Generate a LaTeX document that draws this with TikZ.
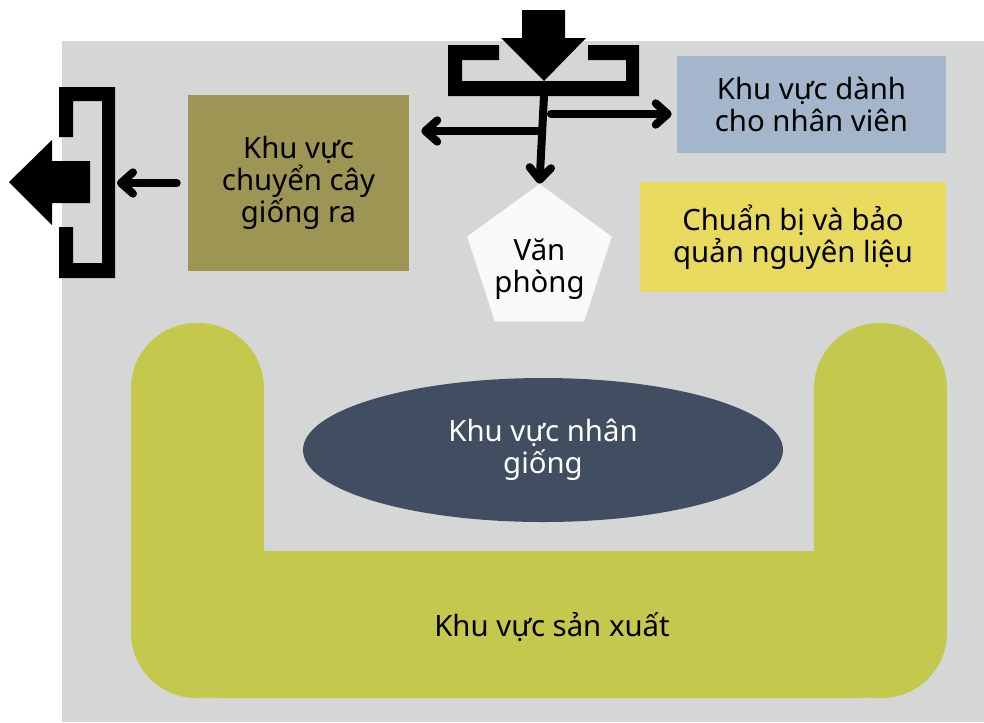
\documentclass[tikz,border=0pt]{standalone}
\usepackage{fontspec}
\setmainfont{Noto Sans}
\usepackage{tikz}
\usetikzlibrary{arrows.meta,shapes.geometric,positioning}
\definecolor{floorgray}{HTML}{D5D7D6}
\definecolor{nurseryolive}{HTML}{9C9553}
\definecolor{staffblue}{HTML}{A3B6CB}
\definecolor{storeyellow}{HTML}{E8DA5E}
\definecolor{propslate}{HTML}{414E62}
\definecolor{prodlime}{HTML}{C4C94E}
\definecolor{officewhite}{HTML}{F9F9F9}
\tikzstyle{zone}=[inner sep=0pt,align=center,font=\fontsize{22}{24}\selectfont]
\tikzstyle{box}=[zone,rectangle]
\tikzstyle{flow}=[line width=6pt,line cap=round,-{Straight Barb[length=9pt,width=16pt,round]}]
\tikzstyle{door}=[fill=black]

\begin{document}
\begin{tikzpicture}[x=0.75pt,y=-0.75pt]
        \useasboundingbox (0,0) rectangle (984,722);
        \fill[floorgray] (62,41) rectangle (984,722);

        % production area
        \fill[prodlime,rounded corners=49pt] (131,323) rectangle (264,698);
        \fill[prodlime,rounded corners=49pt] (814,323) rectangle (947,698);
        \fill[prodlime,rounded corners=52pt] (148,551) rectangle (930,698);
        \node[zone] (production) at (552,627) {Khu vực sản xuất};

        \node (nursery) [box,fill=nurseryolive,minimum width=165.75pt,minimum height=132pt] at (298.5,183) {Khu vực\\chuyển cây\\giống ra};
        \node (staff) [box,fill=staffblue,minimum width=201.75pt,minimum height=72.75pt] at (811.5,104.5) {Khu vực dành\\cho nhân viên};
        \node (store) [box,fill=storeyellow,minimum width=229.5pt,minimum height=82.5pt] at (793,237) {Chuẩn bị và bảo\\quản nguyên liệu};
        \node (office) [regular polygon,regular polygon sides=5,minimum size=114pt,fill=officewhite,
            label={[zone,yshift=-7pt]center:{Văn\\phòng}}] at (539.5,260) {};
        \node (propagation) [zone,ellipse,fill=propslate,text=white,minimum width=360pt,minimum height=108pt] at (543,450) {Khu vực nhân\\giống};

        % entrance
        \fill[door] (499,45) -- (448,45) -- (448,96) -- (639,96) -- (639,45) -- (588,45) -- (588,60) -- (626,60) -- (626,81) -- (462,81) -- (462,60) -- (499,60) -- cycle;
        \fill[door] (522,10) -- (565,10) -- (565,38) -- (586,38) -- (544,81) -- (501,38) -- (522,38) -- cycle;
        \coordinate (entry) at (544,96);
        \coordinate (splitl) at (540,131);
        \coordinate (splitr) at (551,114);

        % exit
        \fill[door] (59,137) -- (59,87) -- (115,87) -- (115,278) -- (59,278) -- (59,227) -- (73,227) -- (73,263) -- (102,263) -- (102,101) -- (73,101) -- (73,137) -- cycle;
        \fill[door] (90,161) -- (52,161) -- (52,140) -- (9,182) -- (52,225) -- (52,203) -- (90,203) -- cycle;
        \coordinate (exit) at (115,183);

        \draw[flow] (entry) -- (office.corner 1);
        \draw[flow,shorten >=9pt] (splitl) -- (splitl -| nursery.east);
        \draw[flow,shorten >=3.75pt] (splitr) -- (splitr -| staff.west);
        \draw[flow,shorten <=8.25pt,shorten >=1.5pt] (nursery.west) -- (exit);
\end{tikzpicture}
\end{document}
